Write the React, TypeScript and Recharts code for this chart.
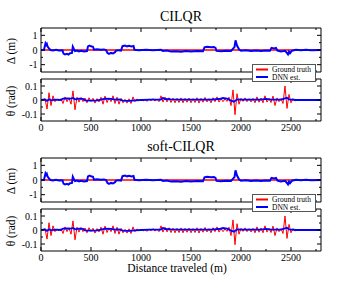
import React from "react";
import { LineChart, Line, XAxis, YAxis, ReferenceArea } from "recharts";

// axis ticks
const X_MAX = 2800;
const X_TICKS = [0, 250, 500, 750, 1000, 1250, 1500, 1750, 2000, 2250, 2500, 2750];
const X_LABELS = [0, 500, 1000, 1500, 2000, 2500];
const DELTA_TICKS = [-1, -0.5, 0, 0.5, 1];
const DELTA_LABELS = [-1, 0, 1];
const THETA_TICKS = [-0.1, -0.05, 0, 0.05, 0.1];
const THETA_LABELS = [-0.1, 0, 0.1];

const SERIES = [
  { name: "Ground truth", color: "#ff0000" },
  { name: "DNN est.", color: "#0000ff" },
];

// lateral offset [distance m, delta m]
const DELTA_TRUTH = [[0, 0], [2800, 0]];
const DELTA_EST = [
  [0, 0], [30, 0.02], [40, 0.3], [45, 0.45], [52, 0.36], [58, 0.42], [65, 0.25], [80, 0.1],
  [95, 0], [120, -0.03], [150, 0.01], [180, -0.03], [215, -0.02], [225, -0.25], [240, -0.3],
  [260, -0.26], [275, -0.31], [290, -0.22], [310, -0.2], [318, 0.22], [330, 0.05], [340, -0.08],
  [360, -0.04], [380, -0.1], [400, -0.06], [430, -0.1], [460, -0.07], [470, 0.25], [485, 0.3],
  [500, 0.25], [520, 0.22], [530, 0.02], [560, 0.05], [600, 0.01], [630, 0.04], [650, 0],
  [665, -0.2], [680, -0.26], [700, -0.2], [720, -0.24], [740, -0.15], [750, -0.05], [775, -0.01],
  [800, -0.04], [815, 0.26], [840, 0.3], [860, 0.25], [880, 0.29], [905, 0.24], [925, 0.27],
  [935, 0.02], [980, -0.01], [1050, 0.02], [1120, -0.01], [1200, 0.01], [1220, -0.07],
  [1260, -0.04], [1300, -0.11], [1350, -0.08], [1400, -0.12], [1450, -0.07], [1500, -0.1],
  [1560, -0.06], [1620, -0.08], [1635, 0.18], [1660, 0.22], [1700, 0.18], [1730, 0.21],
  [1745, 0.15], [1755, -0.06], [1800, -0.09], [1850, -0.05], [1900, -0.07], [1935, 0.2],
  [1945, 0.66], [1960, 0.3], [1980, 0.05], [2000, -0.05], [2050, -0.02], [2100, -0.07],
  [2150, -0.03], [2200, -0.07], [2250, -0.03], [2290, -0.05], [2305, 0.15], [2330, 0.11],
  [2350, 0.14], [2365, -0.05], [2400, -0.1], [2440, -0.06], [2460, -0.2], [2470, -0.3],
  [2480, -0.12], [2490, -0.22], [2510, -0.05], [2550, 0.01], [2600, -0.02], [2650, 0.01],
  [2700, -0.01], [2800, 0],
];

// heading error [distance m, theta rad]
const THETA_TRUTH = [
  [0, 0.002], [20, -0.004], [40, 0.01], [60, -0.065], [80, 0.052], [100, -0.04], [120, 0.03],
  [140, -0.012], [160, 0.008], [180, -0.006], [200, 0.01], [220, -0.025], [240, 0.022],
  [260, -0.012], [280, 0.015], [300, -0.03], [320, 0.065], [340, -0.07], [360, 0.02],
  [380, -0.015], [400, 0.018], [420, -0.012], [440, 0.014], [460, -0.02], [480, 0.016],
  [500, -0.01], [520, 0.012], [540, -0.022], [560, 0.01], [580, -0.014], [600, 0.02],
  [620, -0.03], [640, 0.028], [660, -0.018], [680, 0.015], [700, -0.012], [720, 0.03],
  [740, -0.025], [760, 0.02], [780, -0.03], [800, 0.012], [820, -0.02], [840, 0.005],
  [860, -0.022], [880, 0.008], [900, -0.025], [920, 0.022], [940, -0.012], [960, 0.008],
  [980, -0.006], [1000, 0.007], [1020, -0.008], [1040, 0.006], [1060, -0.01], [1080, 0.008],
  [1100, -0.006], [1120, 0.01], [1140, -0.008], [1160, 0.007], [1180, -0.012], [1200, 0.03],
  [1220, -0.015], [1240, 0.02], [1260, -0.014], [1280, 0.016], [1300, -0.018], [1320, 0.014],
  [1340, -0.02], [1360, 0.012], [1380, -0.018], [1400, 0.015], [1420, -0.02], [1440, 0.012],
  [1460, -0.016], [1480, 0.014], [1500, -0.02], [1520, 0.01], [1540, -0.018], [1560, 0.016],
  [1580, -0.022], [1600, 0.012], [1620, -0.016], [1640, 0.018], [1660, -0.014], [1680, 0.01],
  [1700, -0.02], [1720, 0.016], [1740, -0.012], [1760, 0.022], [1780, -0.015], [1800, 0.01],
  [1820, -0.012], [1840, 0.008], [1860, -0.01], [1880, 0.02], [1900, -0.04], [1920, 0.072],
  [1940, -0.105], [1960, 0.045], [1980, -0.03], [2000, 0.012], [2020, -0.01], [2040, 0.015],
  [2060, -0.012], [2080, 0.01], [2100, -0.014], [2120, 0.012], [2140, -0.02], [2160, 0.022],
  [2180, -0.016], [2200, 0.014], [2220, -0.02], [2240, 0.03], [2260, -0.015], [2280, 0.012],
  [2300, -0.018], [2320, 0.028], [2340, -0.04], [2360, 0.015], [2380, -0.012], [2400, 0.01],
  [2420, -0.025], [2440, 0.1], [2460, -0.06], [2480, 0.04], [2500, -0.02], [2520, 0.01],
  [2540, -0.008], [2560, 0.006], [2580, -0.004], [2600, 0.005], [2620, -0.004], [2640, 0.003],
  [2660, -0.003], [2680, 0.004], [2700, -0.003], [2720, 0.002], [2740, -0.002], [2760, 0.002],
  [2780, -0.001],
];
const THETA_EST = [
  [0, 0], [40, 0.004], [60, -0.006], [80, 0.005], [100, -0.002], [140, 0.002], [200, 0],
  [220, 0.01], [260, 0.012], [300, 0.01], [320, 0.015], [340, 0.005], [380, 0.01], [420, 0.008],
  [440, -0.002], [500, -0.004], [560, -0.003], [600, 0.002], [640, 0.01], [700, 0.008],
  [740, 0.003], [780, 0.004], [820, -0.004], [880, -0.006], [940, -0.003], [1000, 0],
  [1100, 0.002], [1200, 0.003], [1220, 0.016], [1240, 0.007], [1300, 0.004], [1400, 0.003],
  [1500, 0.002], [1600, 0.003], [1700, 0.003], [1780, 0.007], [1820, 0.014], [1860, 0.01],
  [1900, -0.004], [1930, -0.012], [1960, 0.005], [2000, 0.003], [2100, 0.002], [2200, 0.003],
  [2250, 0.008], [2300, 0.003], [2400, 0.002], [2440, 0.012], [2460, 0.016], [2480, 0.004],
  [2550, 0], [2800, 0],
];

const FONT = "'Liberation Serif', 'Times New Roman', serif";
const LEFT = 41;
const RIGHT = 321;
const PLOT_W = RIGHT - LEFT;

const toPts = (arr: number[][]) => arr.map(([x, y]) => ({ x, y }));

const XTick = ({ x, y, payload, plotH, showLabels }: any) => {
  const major = X_LABELS.includes(payload.value);
  const len = major ? 4 : 2;
  return (
    <g>
      <line x1={x} x2={x} y1={y} y2={y - len} stroke="#000" />
      <line x1={x} x2={x} y1={y - plotH} y2={y - plotH + len} stroke="#000" />
      {major && showLabels && (
        <text x={x} y={y + 10} textAnchor="middle" fontSize={10} fontFamily={FONT} fill="#000">
          {payload.value}
        </text>
      )}
    </g>
  );
};

const YTick = ({ x, y, payload, labels }: any) => {
  const major = labels.includes(payload.value);
  const len = major ? 4 : 2;
  return (
    <g>
      <line x1={x} x2={x + len} y1={y} y2={y} stroke="#000" />
      <line x1={x + PLOT_W - len} x2={x + PLOT_W} y1={y} y2={y} stroke="#000" />
      {major && (
        <text x={x - 3.5} y={y} dy="0.35em" textAnchor="end" fontSize={10} fontFamily={FONT} fill="#000">
          {String(payload.value)}
        </text>
      )}
    </g>
  );
};

interface PanelProps {
  top: number;
  plotH: number;
  domain: number[];
  ticks: number[];
  labels: number[];
  showXLabels: boolean;
  truth: number[][];
  est: number[][];
  truthWidth: number;
  estWidth: number;
}

const Panel = ({ top, plotH, domain, ticks, labels, showXLabels, truth, est, truthWidth, estWidth }: PanelProps) => {
  const mTop = 10;
  const mBottom = 16;
  return (
    <div style={{ position: "absolute", left: 0, top: top - mTop, width: 363, height: plotH + mTop + mBottom }}>
      <LineChart
        width={363}
        height={plotH + mTop + mBottom}
        margin={{ top: mTop, bottom: 0, left: 0, right: 363 - RIGHT }}
      >
        <XAxis
          dataKey="x"
          type="number"
          domain={[0, X_MAX]}
          ticks={X_TICKS}
          interval={0}
          height={mBottom}
          tickSize={0}
          tickMargin={0}
          axisLine={false}
          tickLine={false}
          tick={(p: any) => <XTick {...p} plotH={plotH} showLabels={showXLabels} />}
          allowDataOverflow
        />
        <YAxis
          dataKey="y"
          type="number"
          domain={domain}
          ticks={ticks}
          interval={0}
          width={LEFT}
          tickSize={0}
          tickMargin={0}
          axisLine={false}
          tickLine={false}
          tick={(p: any) => <YTick {...p} labels={labels} />}
          allowDataOverflow
        />
        <Line
          data={toPts(truth)}
          dataKey="y"
          name={SERIES[0].name}
          stroke={SERIES[0].color}
          strokeWidth={truthWidth}
          dot={false}
          isAnimationActive={false}
        />
        <Line
          data={toPts(est)}
          dataKey="y"
          name={SERIES[1].name}
          stroke={SERIES[1].color}
          strokeWidth={estWidth}
          dot={false}
          isAnimationActive={false}
        />
        <ReferenceArea
          x1={0}
          x2={X_MAX}
          y1={domain[0]}
          y2={domain[1]}
          fill="none"
          stroke="#000"
          strokeWidth={1}
          ifOverflow="visible"
        />
      </LineChart>
    </div>
  );
};

const Legend = ({ top }: { top: number }) => (
  <g>
    <rect x={252.5} y={top + 0.5} width={63} height={17} fill="#fff" stroke="#555" />
    {SERIES.map((s, i) => (
      <g key={s.name}>
        <line x1={256} x2={268} y1={top + 5.5 + i * 7.5} y2={top + 5.5 + i * 7.5} stroke={s.color} strokeWidth={2} />
        <text x={272} y={top + 8 + i * 7.5} fontSize={7.5} fontFamily={FONT} fill="#000">
          {s.name}
        </text>
      </g>
    ))}
  </g>
);

const GROUPS = [
  { title: "CILQR", offset: 0 },
  { title: "soft-CILQR", offset: 130 },
];

export default function App() {
  return (
    <div style={{ position: "absolute", left: 0, top: 0, width: 363, height: 281, background: "#fff", fontFamily: FONT }}>
      {GROUPS.map((g) => (
        <React.Fragment key={g.title}>
          <Panel
            top={28 + g.offset}
            plotH={44}
            domain={[-1.5, 1.5]}
            ticks={DELTA_TICKS}
            labels={DELTA_LABELS}
            showXLabels={false}
            truth={DELTA_TRUTH}
            est={DELTA_EST}
            truthWidth={1.5}
            estWidth={2}
          />
          <Panel
            top={79 + g.offset}
            plotH={42}
            domain={[-0.15, 0.15]}
            ticks={THETA_TICKS}
            labels={THETA_LABELS}
            showXLabels={true}
            truth={THETA_TRUTH}
            est={THETA_EST}
            truthWidth={1}
            estWidth={1.8}
          />
        </React.Fragment>
      ))}
      <svg width={363} height={281} style={{ position: "absolute", left: 0, top: 0, pointerEvents: "none" }}>
        {GROUPS.map((g) => (
          <g key={g.title}>
            <text x={181} y={21 + g.offset} textAnchor="middle" fontSize={14} fontFamily={FONT} fill="#000">
              {g.title}
            </text>
            <text
              transform={`translate(15, ${51 + g.offset}) rotate(-90)`}
              textAnchor="middle"
              fontSize={11.5}
              fontFamily={FONT}
              fill="#000"
            >
              Δ (m)
            </text>
            <text
              transform={`translate(15, ${101 + g.offset}) rotate(-90)`}
              textAnchor="middle"
              fontSize={11.5}
              fontFamily={FONT}
              fill="#000"
            >
              θ (rad)
            </text>
            <Legend top={64 + g.offset} />
          </g>
        ))}
        <text x={177} y={272} textAnchor="middle" fontSize={11.5} fontFamily={FONT} fill="#000">
          Distance traveled (m)
        </text>
      </svg>
    </div>
  );
}
